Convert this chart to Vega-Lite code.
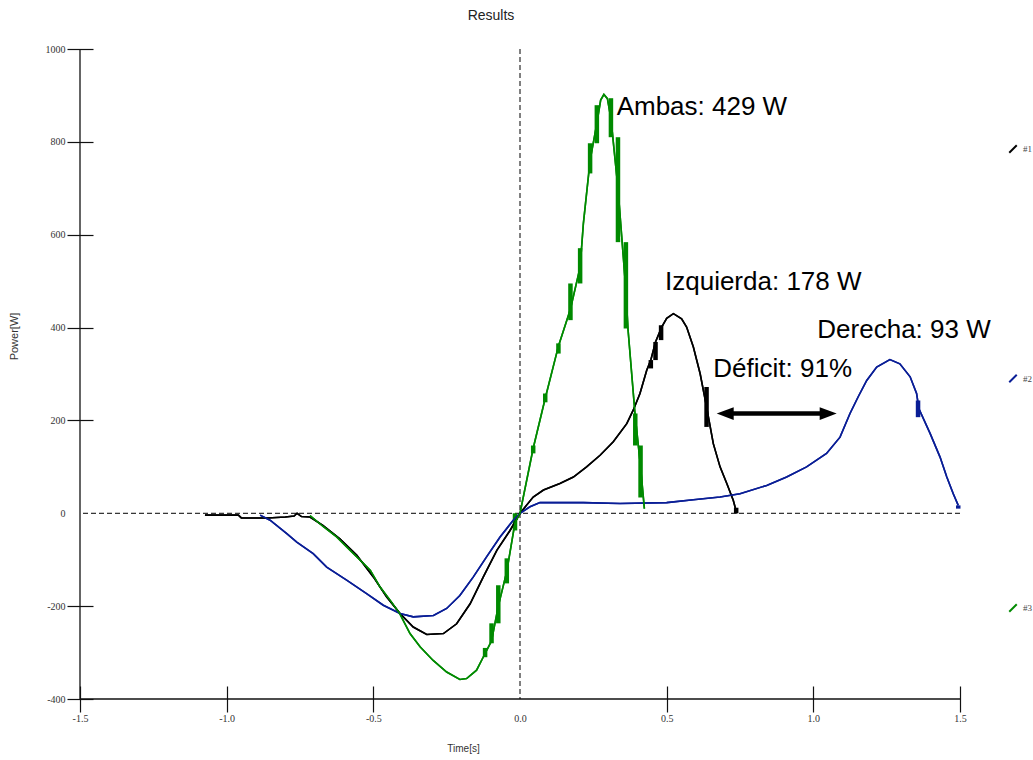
{
  "$schema": "https://vega.github.io/schema/vega-lite/v6.json",
  "width": 880,
  "height": 650,
  "autosize": {"type": "none"},
  "padding": {"left": 80, "top": 49, "right": 73, "bottom": 61},
  "background": "white",
  "config": {"view": {"stroke": null}},
  "title": {"text": "Results", "font": "Liberation Sans", "fontSize": 14, "fontWeight": "normal", "color": "#222", "anchor": "middle", "frame": "group", "dx": -29, "offset": 21},
  "datasets": {
    "curves": [
      {"s": "#1", "t": -1.074, "p": -4}, {"s": "#1", "t": -0.96, "p": -4}, {"s": "#1", "t": -0.95, "p": -10}, {"s": "#1", "t": -0.86, "p": -10}, {"s": "#1", "t": -0.8, "p": -8}, {"s": "#1", "t": -0.77, "p": -6}, {"s": "#1", "t": -0.76, "p": 0}, {"s": "#1", "t": -0.745, "p": -7}, {"s": "#1", "t": -0.716, "p": -8}, {"s": "#1", "t": -0.672, "p": -26}, {"s": "#1", "t": -0.614, "p": -55}, {"s": "#1", "t": -0.557, "p": -90}, {"s": "#1", "t": -0.5, "p": -137}, {"s": "#1", "t": -0.455, "p": -180}, {"s": "#1", "t": -0.409, "p": -216}, {"s": "#1", "t": -0.364, "p": -245}, {"s": "#1", "t": -0.318, "p": -261}, {"s": "#1", "t": -0.261, "p": -259}, {"s": "#1", "t": -0.216, "p": -238}, {"s": "#1", "t": -0.17, "p": -195}, {"s": "#1", "t": -0.125, "p": -137}, {"s": "#1", "t": -0.079, "p": -80}, {"s": "#1", "t": -0.034, "p": -37}, {"s": "#1", "t": 0, "p": 0}, {"s": "#1", "t": 0.045, "p": 35}, {"s": "#1", "t": 0.08, "p": 50}, {"s": "#1", "t": 0.136, "p": 64}, {"s": "#1", "t": 0.182, "p": 78}, {"s": "#1", "t": 0.227, "p": 100}, {"s": "#1", "t": 0.273, "p": 125}, {"s": "#1", "t": 0.318, "p": 154}, {"s": "#1", "t": 0.364, "p": 193}, {"s": "#1", "t": 0.386, "p": 222}, {"s": "#1", "t": 0.409, "p": 258}, {"s": "#1", "t": 0.432, "p": 308}, {"s": "#1", "t": 0.446, "p": 330}, {"s": "#1", "t": 0.462, "p": 369}, {"s": "#1", "t": 0.483, "p": 401}, {"s": "#1", "t": 0.5, "p": 420}, {"s": "#1", "t": 0.523, "p": 430}, {"s": "#1", "t": 0.551, "p": 419}, {"s": "#1", "t": 0.568, "p": 401}, {"s": "#1", "t": 0.591, "p": 358}, {"s": "#1", "t": 0.614, "p": 301}, {"s": "#1", "t": 0.636, "p": 229}, {"s": "#1", "t": 0.659, "p": 150}, {"s": "#1", "t": 0.682, "p": 100}, {"s": "#1", "t": 0.705, "p": 64}, {"s": "#1", "t": 0.727, "p": 28}, {"s": "#1", "t": 0.739, "p": 0},
      {"s": "#2", "t": -0.886, "p": -4}, {"s": "#2", "t": -0.852, "p": -15}, {"s": "#2", "t": -0.795, "p": -44}, {"s": "#2", "t": -0.761, "p": -62}, {"s": "#2", "t": -0.705, "p": -87}, {"s": "#2", "t": -0.659, "p": -116}, {"s": "#2", "t": -0.591, "p": -144}, {"s": "#2", "t": -0.523, "p": -173}, {"s": "#2", "t": -0.466, "p": -198}, {"s": "#2", "t": -0.409, "p": -216}, {"s": "#2", "t": -0.364, "p": -223}, {"s": "#2", "t": -0.295, "p": -220}, {"s": "#2", "t": -0.25, "p": -205}, {"s": "#2", "t": -0.205, "p": -177}, {"s": "#2", "t": -0.159, "p": -137}, {"s": "#2", "t": -0.114, "p": -94}, {"s": "#2", "t": -0.068, "p": -51}, {"s": "#2", "t": -0.023, "p": -15}, {"s": "#2", "t": 0, "p": 0}, {"s": "#2", "t": 0.034, "p": 14}, {"s": "#2", "t": 0.068, "p": 23}, {"s": "#2", "t": 0.216, "p": 23}, {"s": "#2", "t": 0.341, "p": 21}, {"s": "#2", "t": 0.5, "p": 23}, {"s": "#2", "t": 0.591, "p": 29}, {"s": "#2", "t": 0.682, "p": 35}, {"s": "#2", "t": 0.75, "p": 42}, {"s": "#2", "t": 0.841, "p": 60}, {"s": "#2", "t": 0.909, "p": 78}, {"s": "#2", "t": 0.977, "p": 100}, {"s": "#2", "t": 1.045, "p": 129}, {"s": "#2", "t": 1.091, "p": 164}, {"s": "#2", "t": 1.125, "p": 215}, {"s": "#2", "t": 1.153, "p": 251}, {"s": "#2", "t": 1.182, "p": 286}, {"s": "#2", "t": 1.216, "p": 315}, {"s": "#2", "t": 1.261, "p": 331}, {"s": "#2", "t": 1.295, "p": 322}, {"s": "#2", "t": 1.33, "p": 294}, {"s": "#2", "t": 1.352, "p": 258}, {"s": "#2", "t": 1.36, "p": 225}, {"s": "#2", "t": 1.398, "p": 172}, {"s": "#2", "t": 1.432, "p": 121}, {"s": "#2", "t": 1.455, "p": 78}, {"s": "#2", "t": 1.477, "p": 42}, {"s": "#2", "t": 1.494, "p": 17},
      {"s": "#3", "t": -0.716, "p": -5}, {"s": "#3", "t": -0.67, "p": -29}, {"s": "#3", "t": -0.625, "p": -51}, {"s": "#3", "t": -0.59, "p": -73}, {"s": "#3", "t": -0.545, "p": -101}, {"s": "#3", "t": -0.51, "p": -123}, {"s": "#3", "t": -0.477, "p": -159}, {"s": "#3", "t": -0.443, "p": -187}, {"s": "#3", "t": -0.41, "p": -216}, {"s": "#3", "t": -0.375, "p": -259}, {"s": "#3", "t": -0.34, "p": -288}, {"s": "#3", "t": -0.296, "p": -317}, {"s": "#3", "t": -0.25, "p": -342}, {"s": "#3", "t": -0.205, "p": -358}, {"s": "#3", "t": -0.182, "p": -356}, {"s": "#3", "t": -0.148, "p": -338}, {"s": "#3", "t": -0.119, "p": -302}, {"s": "#3", "t": -0.097, "p": -275}, {"s": "#3", "t": -0.074, "p": -200}, {"s": "#3", "t": -0.045, "p": -125}, {"s": "#3", "t": -0.017, "p": -20}, {"s": "#3", "t": 0, "p": 0}, {"s": "#3", "t": 0.045, "p": 140}, {"s": "#3", "t": 0.085, "p": 245}, {"s": "#3", "t": 0.131, "p": 360}, {"s": "#3", "t": 0.172, "p": 440}, {"s": "#3", "t": 0.205, "p": 530}, {"s": "#3", "t": 0.216, "p": 624}, {"s": "#3", "t": 0.239, "p": 760}, {"s": "#3", "t": 0.262, "p": 840}, {"s": "#3", "t": 0.275, "p": 890}, {"s": "#3", "t": 0.286, "p": 902}, {"s": "#3", "t": 0.298, "p": 893}, {"s": "#3", "t": 0.31, "p": 850}, {"s": "#3", "t": 0.334, "p": 700}, {"s": "#3", "t": 0.361, "p": 480}, {"s": "#3", "t": 0.368, "p": 398}, {"s": "#3", "t": 0.392, "p": 215}, {"s": "#3", "t": 0.411, "p": 100}, {"s": "#3", "t": 0.424, "p": 10}
    ],
    "steps": [
      {"s": "#3", "t": -0.119, "p": -310, "p2": -290}, {"s": "#3", "t": -0.097, "p": -280, "p2": -237}, {"s": "#3", "t": -0.074, "p": -237, "p2": -155}, {"s": "#3", "t": -0.045, "p": -151, "p2": -97}, {"s": "#3", "t": -0.017, "p": -37, "p2": 0}, {"s": "#3", "t": 0.045, "p": 129, "p2": 146}, {"s": "#3", "t": 0.086, "p": 239, "p2": 258}, {"s": "#3", "t": 0.131, "p": 344, "p2": 366}, {"s": "#3", "t": 0.172, "p": 416, "p2": 495}, {"s": "#3", "t": 0.205, "p": 495, "p2": 571}, {"s": "#3", "t": 0.239, "p": 732, "p2": 797}, {"s": "#3", "t": 0.262, "p": 797, "p2": 879}, {"s": "#3", "t": 0.31, "p": 810, "p2": 894}, {"s": "#3", "t": 0.334, "p": 584, "p2": 810}, {"s": "#3", "t": 0.361, "p": 398, "p2": 584}, {"s": "#3", "t": 0.393, "p": 146, "p2": 215}, {"s": "#3", "t": 0.411, "p": 34, "p2": 146},
      {"s": "#1", "t": 0.446, "p": 312, "p2": 330}, {"s": "#1", "t": 0.462, "p": 330, "p2": 369}, {"s": "#1", "t": 0.481, "p": 373, "p2": 405}, {"s": "#1", "t": 0.636, "p": 186, "p2": 272}, {"s": "#1", "t": 0.737, "p": 0, "p2": 12},
      {"s": "#2", "t": 1.357, "p": 207, "p2": 243}, {"s": "#2", "t": 1.494, "p": 10, "p2": 17}
    ],
    "notes": [
      {"label": "Ambas: 429 W", "t": 0.3295, "p": 858},
      {"label": "Izquierda: 178 W", "t": 0.4943, "p": 480},
      {"label": "Derecha: 93 W", "t": 1.0136, "p": 377},
      {"label": "Déficit: 91%", "t": 0.659, "p": 293}
    ],
    "arrow": [{"t1": 0.6995, "t2": 1.0507, "p": 214.7}],
    "heads": [{"dir": "left", "t": 0.6995, "p": 214.7}, {"dir": "right", "t": 1.0507, "p": 214.7}]
  },
  "layer": [
    {
      "data": {"name": "curves"},
      "mark": {"type": "line", "strokeWidth": 1.6},
      "encoding": {
        "x": {
          "field": "t", "type": "quantitative",
          "scale": {"domain": [-1.5, 1.5], "nice": false, "zero": false},
          "axis": {
            "values": [-1.5, -1, -0.5, 0, 0.5, 1, 1.5], "format": ".1f",
            "labelExpr": "replace(datum.label, '\u2212', '-')",
            "offset": -13, "tickSize": 26, "domain": false, "grid": false,
            "labelFont": "Liberation Serif", "labelFontSize": 10, "labelColor": "#333", "labelPadding": 1, "labelFlush": false, "labelOverlap": false,
            "tickColor": "#111", "tickWidth": 1.2,
            "tickOpacity": {"condition": {"test": "datum.value === 0", "value": 0}, "value": 1},
            "title": "Time[s]", "titleFont": "Liberation Sans", "titleFontSize": 10, "titleFontWeight": "normal", "titleColor": "#333",
            "titleX": 383, "titleY": 62, "titleAlign": "center", "titleBaseline": "middle"
          }
        },
        "y": {
          "field": "p", "type": "quantitative",
          "scale": {"domain": [-400, 1000], "nice": false, "zero": false},
          "axis": {
            "values": [-400, -200, 0, 200, 400, 600, 800, 1000], "format": "d",
            "labelExpr": "replace(datum.label, '\u2212', '-')",
            "offset": -13, "tickSize": 26, "domain": false, "grid": false,
            "labelFont": "Liberation Serif", "labelFontSize": 10, "labelColor": "#333", "labelPadding": 2, "labelFlush": false, "labelOverlap": false,
            "tickColor": "#111", "tickWidth": 1.2,
            "tickOpacity": {"condition": {"test": "datum.value === 0", "value": 0}, "value": 1},
            "title": "Power[W]", "titleFont": "Liberation Sans", "titleFontSize": 11, "titleFontWeight": "normal", "titleColor": "#333",
            "titleX": -79, "titleY": 287, "titleAngle": -90, "titleAlign": "center", "titleBaseline": "middle"
          }
        },
        "color": {
          "field": "s", "type": "nominal",
          "scale": {"domain": ["#1", "#2", "#3"], "range": ["#000000", "#0a1e96", "#008a00"]},
          "legend": {
            "orient": "none", "legendX": 928, "legendY": 95, "title": null, "direction": "vertical",
            "symbolType": "M-1,1L1,-1", "symbolSize": 56, "symbolStrokeWidth": 2,
            "labelFont": "Liberation Serif", "labelFontSize": 9, "labelColor": "#444", "labelOffset": 5,
            "rowPadding": 213.5, "padding": 0
          }
        }
      }
    },
    {
      "data": {"values": [{}]},
      "mark": {"type": "rule", "color": "#111", "strokeWidth": 1.3},
      "encoding": {"x": {"datum": -1.5, "type": "quantitative"}}
    },
    {
      "data": {"values": [{}]},
      "mark": {"type": "rule", "color": "#111", "strokeWidth": 1.3},
      "encoding": {"y": {"datum": -400, "type": "quantitative"}}
    },
    {
      "data": {"values": [{}]},
      "mark": {"type": "rule", "color": "#000", "strokeWidth": 1, "strokeDash": [5, 3]},
      "encoding": {"x": {"datum": 0, "type": "quantitative"}}
    },
    {
      "data": {"values": [{}]},
      "mark": {"type": "rule", "color": "#000", "strokeWidth": 1, "strokeDash": [5, 3]},
      "encoding": {"y": {"datum": 0, "type": "quantitative"}}
    },
    {
      "data": {"name": "steps"},
      "mark": {"type": "rule", "strokeWidth": 4.5},
      "encoding": {
        "x": {"field": "t", "type": "quantitative"},
        "y": {"field": "p", "type": "quantitative"},
        "y2": {"field": "p2"},
        "color": {"field": "s", "type": "nominal"}
      }
    },
    {
      "data": {"name": "curves"},
      "mark": {"type": "line", "strokeWidth": 1.6},
      "encoding": {
        "x": {"field": "t", "type": "quantitative"},
        "y": {"field": "p", "type": "quantitative"},
        "color": {"field": "s", "type": "nominal"}
      }
    },
    {
      "data": {"name": "notes"},
      "mark": {"type": "text", "align": "left", "baseline": "alphabetic", "font": "Liberation Sans", "fontSize": 26, "color": "#000"},
      "encoding": {
        "x": {"field": "t", "type": "quantitative"},
        "y": {"field": "p", "type": "quantitative"},
        "text": {"field": "label"}
      }
    },
    {
      "data": {"name": "arrow"},
      "mark": {"type": "rule", "strokeWidth": 4.5, "color": "#000"},
      "encoding": {
        "x": {"field": "t1", "type": "quantitative"},
        "x2": {"field": "t2"},
        "y": {"field": "p", "type": "quantitative"}
      }
    },
    {
      "data": {"name": "heads"},
      "mark": {"type": "point", "filled": true, "color": "#000", "opacity": 1, "size": 289},
      "encoding": {
        "x": {"field": "t", "type": "quantitative"},
        "y": {"field": "p", "type": "quantitative"},
        "shape": {"field": "dir", "type": "nominal", "scale": {"domain": ["left", "right"], "range": ["M-1,0L1,-0.76L1,0.76Z", "M1,0L-1,-0.76L-1,0.76Z"]}, "legend": null}
      }
    }
  ]
}
